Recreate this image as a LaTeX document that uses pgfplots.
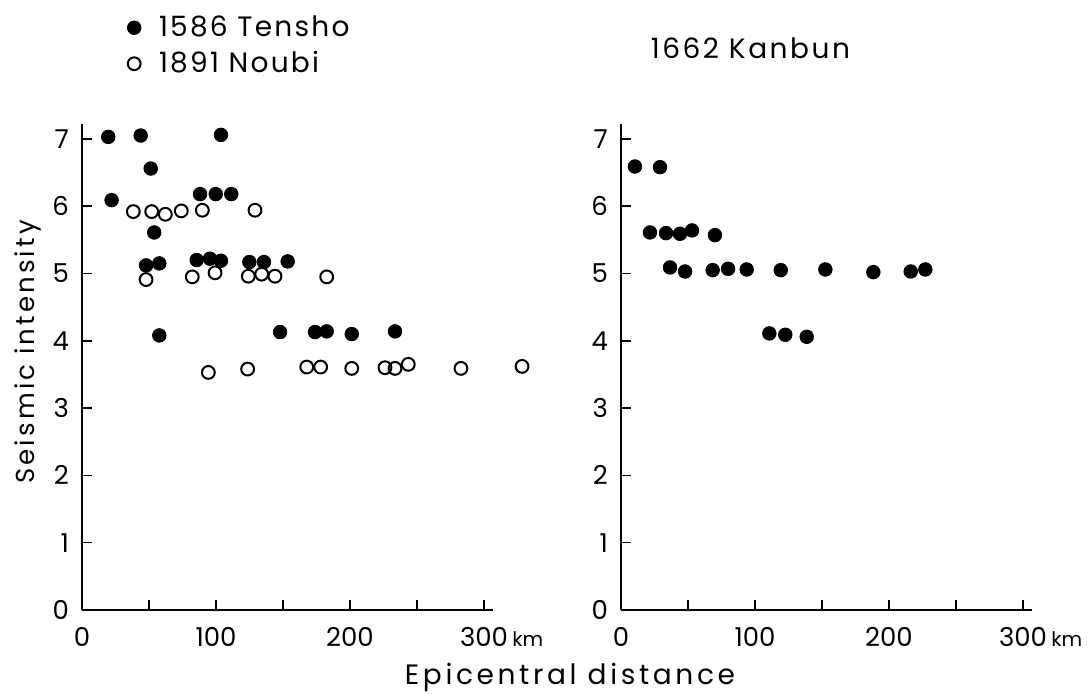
\documentclass[border=0pt]{standalone}
\usepackage{fontspec}
\setmainfont{Poppins}
\newfontfamily\spaced[LetterSpace=8]{Poppins}
\newfontfamily\tspaced[LetterSpace=9]{Poppins}
\newfontfamily\xspaced[LetterSpace=13]{Poppins}
\newfontfamily\wide[LetterSpace=12]{Poppins}
\usepackage{pgfplots}
\usepackage{pgfplotstable}
\pgfplotsset{compat=1.18}
\pgfplotstableread{
x y
19.6 7.03
43.8 7.05
103.7 7.06
51.3 6.56
22.1 6.09
88.1 6.18
99.8 6.18
111.4 6.18
53.9 5.61
47.8 5.12
57.7 5.15
85.6 5.20
95.5 5.22
103.7 5.19
124.9 5.17
135.8 5.17
153.5 5.18
57.7 4.08
147.8 4.13
173.9 4.13
182.6 4.14
201.3 4.10
233.6 4.14
}\tensho
\pgfplotstableread{
x y
38.3 5.92
52.0 5.92
62.2 5.88
74.1 5.93
89.8 5.94
129.1 5.94
47.8 4.91
82.3 4.95
99.3 5.01
124.1 4.96
134.1 4.99
144.0 4.96
182.6 4.95
94.3 3.53
123.6 3.58
167.7 3.61
178.1 3.61
201.3 3.59
226.1 3.60
233.6 3.59
243.5 3.65
282.8 3.59
328.4 3.62
}\noubi
\pgfplotstableread{
x y
10.4 6.59
29.1 6.58
21.6 5.61
33.6 5.60
44.0 5.59
53.0 5.64
70.1 5.57
36.6 5.09
47.8 5.03
68.4 5.05
79.9 5.07
93.8 5.06
119.2 5.05
152.5 5.06
188.3 5.02
216.2 5.03
227.1 5.06
110.7 4.11
122.6 4.09
138.6 4.06
}\kanbun
\begin{document}
\begin{tikzpicture}
\useasboundingbox (-41pt,-41.5pt) rectangle (504.5pt,305pt);
\pgfplotsset{panel/.style={
  x=0.67pt, y=33.65pt, xmin=0, xmax=306.5, ymin=0, ymax=7.22,
  axis lines=left, axis line style={-, line width=0.75pt},
  clip=false, tick align=inside, major tick length=5pt,
  tick style={line width=0.75pt, black},
  xtick={0,50,...,300}, ytick={0,...,7},
  xticklabels={0,,100,,200,,300\rlap{\,\fontsize{10}{12}\selectfont km}},
  yticklabels={0,1,2,3,4,5,6,7},
  ticklabel style={font=\fontsize{13}{15}\selectfont},
  xticklabel style={yshift=-5pt},
  yticklabel style={xshift=-3pt},
}}
\begin{axis}[panel,
  legend style={at={(0.095,1.24)}, anchor=north west, draw=none, fill=none,
    font=\fontsize{14}{16}\selectfont, row sep=2pt, column sep=7pt},
  legend cell align=left]
\addplot[only marks, mark=*, mark size=3.4pt, mark options={fill=black, draw=black}] table[x=x,y=y] {\tensho};
\addlegendentry{\spaced 1586 Tensho}
\addplot[only marks, mark=o, mark size=3.2pt, mark options={line width=1pt, draw=black}] table[x=x,y=y] {\noubi};
\addlegendentry{\spaced 1891 Noubi}
\end{axis}
\begin{axis}[panel, xshift=269.5pt,
  title={\tspaced 1662 Kanbun},
  title style={at={(0.315,1.131)}, anchor=center, font=\fontsize{14}{16}\selectfont}]
\addplot[only marks, mark=*, mark size=3.4pt, mark options={fill=black, draw=black}] table[x=x,y=y] {\kanbun};
\end{axis}
\node[font=\fontsize{14}{16}\selectfont\xspaced] at (244pt,-33.5pt) {Epicentral distance};
\node[rotate=90, font=\fontsize{13}{15}\selectfont\wide] at (-27pt,129pt) {Seismic intensity};
\end{tikzpicture}
\end{document}
